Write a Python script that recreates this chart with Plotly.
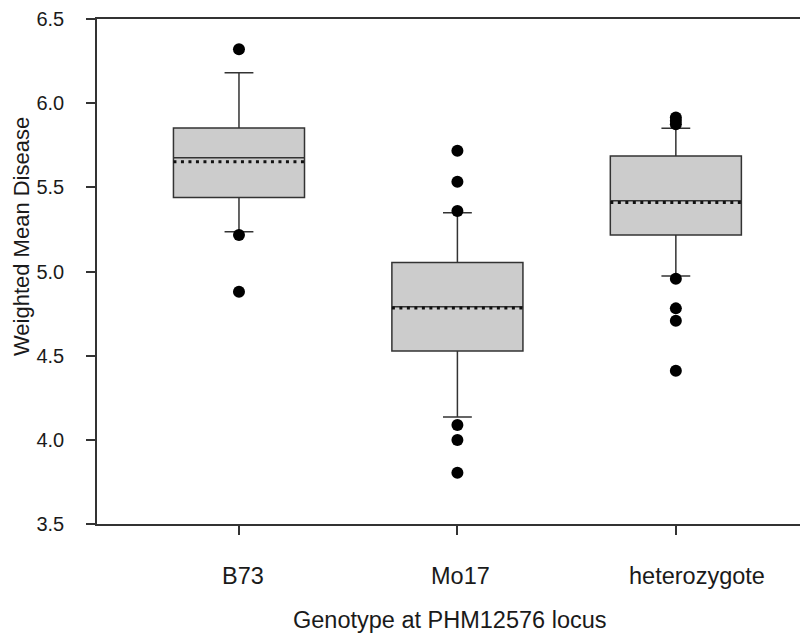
import plotly.graph_objects as go

# ---- data ----
categories = ["B73", "Mo17", "heterozygote"]
q1 = [5.44, 4.527, 5.217]
median = [5.676, 4.79, 5.42]
q3 = [5.852, 5.054, 5.686]
lower_whisker = [5.236, 4.135, 4.973]
upper_whisker = [6.181, 5.349, 5.851]
means = [5.652, 4.783, 5.41]
outliers = [
    [6.32, 5.217, 4.88],
    [5.717, 5.533, 5.359, 4.088, 3.999, 3.804],
    [5.915, 5.895, 5.875, 4.957, 4.781, 4.707, 4.41],
]
y_ticks = [3.5, 4.0, 4.5, 5.0, 5.5, 6.0, 6.5]

BOX_W = 0.6
LINE = "#333333"
FONT = "Liberation Sans, Arial, sans-serif"
TXT = "#1a1a1a"
label_shift = [4, 3, 21]  # horizontal pixel offsets of category labels

pos = list(range(len(categories)))

fig = go.Figure()

fig.add_trace(go.Box(
    x=pos, q1=q1, median=median, q3=q3,
    lowerfence=lower_whisker, upperfence=upper_whisker,
    boxpoints=False, width=BOX_W, whiskerwidth=0.22,
    fillcolor="#cccccc", line=dict(color=LINE, width=1.5),
    showlegend=False, hoverinfo="skip",
))

# mean lines (dotted)
for i, m in zip(pos, means):
    fig.add_trace(go.Scatter(
        x=[i - BOX_W / 2, i + BOX_W / 2], y=[m, m], mode="lines",
        line=dict(color="#111111", width=3, dash="3px,4.5px"),
        showlegend=False, hoverinfo="skip",
    ))

# outliers
ox, oy = [], []
for i, vals in zip(pos, outliers):
    ox += [i] * len(vals)
    oy += vals
fig.add_trace(go.Scatter(
    x=ox, y=oy, mode="markers",
    marker=dict(color="black", size=12, line=dict(width=0)),
    showlegend=False, hoverinfo="skip",
))

annotations = [
    dict(text=c, xref="x", yref="paper", x=i, xshift=s, y=-0.1036,
         xanchor="center", yanchor="middle", showarrow=False,
         font=dict(size=23.5, family=FONT, color=TXT))
    for i, c, s in zip(pos, categories, label_shift)
]
annotations += [
    dict(text="Weighted Mean Disease", textangle=-90,
         xref="paper", yref="paper", x=-0.107, y=0.57,
         xanchor="center", yanchor="middle", showarrow=False,
         font=dict(size=22, family=FONT, color=TXT)),
    dict(text="Genotype at PHM12576 locus",
         xref="paper", yref="paper", x=0.497, y=-0.19,
         xanchor="center", yanchor="middle", showarrow=False,
         font=dict(size=23.5, family=FONT, color=TXT)),
]

# page body has an 8px margin -> compensate
fig.update_layout(
    width=800, height=627,
    margin=dict(l=89, r=0, t=11, b=111),
    paper_bgcolor="white", plot_bgcolor="white",
    font=dict(family=FONT, color=TXT),
    xaxis=dict(
        range=[-0.65, 2.605], tickvals=pos, showticklabels=False,
        showline=True, linecolor=LINE, linewidth=1.5, mirror=True,
        ticks="outside", ticklen=9, tickwidth=1.5, tickcolor=LINE,
        showgrid=False, zeroline=False,
    ),
    yaxis=dict(
        range=[3.5, 6.5], tickvals=y_ticks,
        ticktext=[f"{v:.1f}" for v in y_ticks],
        showline=True, linecolor=LINE, linewidth=1.5, mirror=False,
        ticks="outside", ticklen=9, tickwidth=1.5, tickcolor=LINE,
        showgrid=False, zeroline=False, tickfont=dict(size=20),
        ticklabelstandoff=18,
    ),
    annotations=annotations,
)

fig.write_html("out.html")
